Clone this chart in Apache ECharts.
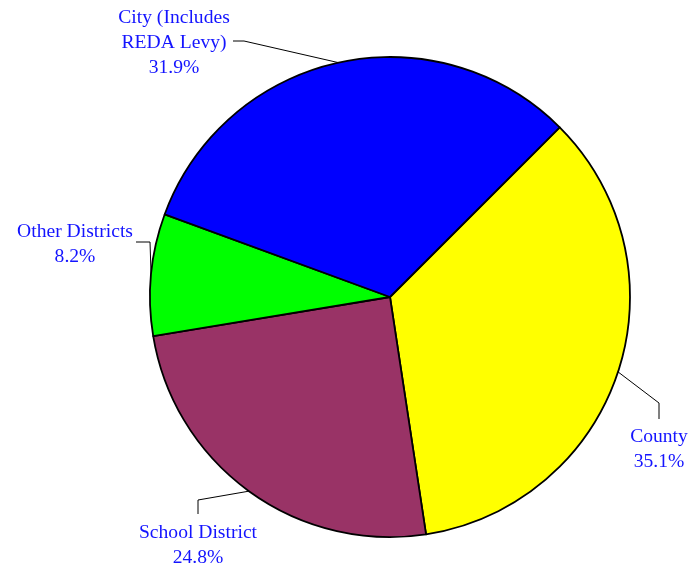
<!DOCTYPE html>
<html>
<head>
<meta charset="utf-8">
<script src="https://cdn.jsdelivr.net/npm/echarts@6/dist/echarts.min.js"></script>
<style>
  html, body { margin: 0; padding: 0; background: #ffffff; }
  #chart { width: 694px; height: 569px; }
</style>
</head>
<body>
<div id="chart"></div>
<script>
// Share of the levy by taxing body (percent)
const categories = ['County', 'School District', 'Other Districts', 'City (Includes\nREDA Levy)'];
const shares = [35.1, 24.8, 8.2, 31.9];
const sliceColors = ['#ffff00', '#993366', '#00ff00', '#0000ff'];

// Where each label sits, and how its leader line bends:
// [label centre x, label centre y, elbow x, elbow y, end x, end y]
const labelPlacement = [
  [659, 449, 659, 403, 659, 419],
  [198, 545, 198, 500, 198, 514],
  [75, 244, 150, 242, 136, 242],
  [174, 43, 244, 41, 233, 41]
];

const chart = echarts.init(document.getElementById('chart'), null, { renderer: 'canvas' });

chart.setOption({
  backgroundColor: '#ffffff',
  animation: false,
  series: [{
    type: 'pie',
    center: [390, 297],
    radius: 240,
    startAngle: 45,
    clockwise: true,
    avoidLabelOverlap: false,
    data: categories.map((name, i) => ({
      name: name,
      value: shares[i],
      itemStyle: { color: sliceColors[i] }
    })),
    itemStyle: { borderColor: '#000000', borderWidth: 1.8 },
    label: {
      show: true,
      position: 'outside',
      formatter: p => p.name + '\n' + p.value.toFixed(1) + '%',
      color: '#1414ff',
      fontFamily: '"Liberation Serif", "Times New Roman", serif',
      fontSize: 19.6,
      lineHeight: 25,
      align: 'center'
    },
    labelLine: {
      show: true,
      length: 20,
      length2: 10,
      lineStyle: { color: '#000000', width: 1 }
    },
    labelLayout: function (params) {
      const pl = labelPlacement[params.dataIndex];
      const start = params.labelLinePoints[0];
      return {
        x: pl[0],
        y: pl[1],
        align: 'center',
        verticalAlign: 'middle',
        labelLinePoints: [start, [pl[2], pl[3]], [pl[4], pl[5]]]
      };
    },
    emphasis: { disabled: true }
  }]
});
</script>
</body>
</html>
